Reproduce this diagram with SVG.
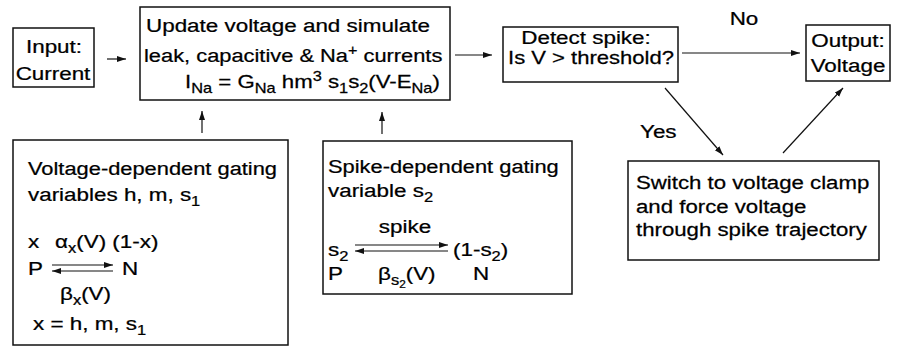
<svg xmlns="http://www.w3.org/2000/svg" width="899" height="350" viewBox="0 0 899 350">
<style>
.t{font-family:"Liberation Sans",Arial,Helvetica,sans-serif;font-size:19px;fill:#000;stroke:#000;stroke-width:0.25}
.s{font-size:14px}
.ss{font-size:10px}
.box{fill:#fff;stroke:#111;stroke-width:1.5}
.ln{fill:none;stroke:#111;stroke-width:1.2}
</style>
<defs>
<marker id="ah" markerUnits="userSpaceOnUse" markerWidth="10" markerHeight="8" refX="9" refY="3" orient="auto">
<path d="M0,0 L9,3 L0,6 z" fill="#111"/>
</marker>
</defs>
<rect width="899" height="350" fill="#fff"/>

<g id="input">
<rect class="box" x="13" y="28" width="81" height="59"/>
<text class="t" text-anchor="middle" transform="translate(54,53) scale(1.18,1)">Input:</text>
<text class="t" text-anchor="middle" transform="translate(53,80) scale(1.18,1)">Current</text>
</g>

<g id="update">
<rect class="box" x="140" y="7" width="310" height="93"/>
<text class="t" transform="translate(146,32) scale(1.18,1)">Update voltage and simulate</text>
<text class="t" transform="translate(144,62) scale(1.15,1)">leak, capacitive &amp; Na<tspan class="s" dy="-7">+</tspan><tspan dy="7"> currents</tspan></text>
<text class="t" transform="translate(185,88) scale(1.17,1)">I<tspan class="s" dy="5">Na</tspan><tspan dy="-5"> = G</tspan><tspan class="s" dy="5">Na</tspan><tspan dy="-5"> hm</tspan><tspan class="s" dy="-7">3</tspan><tspan dy="7"> s</tspan><tspan class="s" dy="5">1</tspan><tspan dy="-5">s</tspan><tspan class="s" dy="5">2</tspan><tspan dy="-5">(V-E</tspan><tspan class="s" dy="5">Na</tspan><tspan dy="-5">)</tspan></text>
</g>

<g id="detect">
<rect class="box" x="503" y="27" width="175" height="55"/>
<text class="t" text-anchor="middle" transform="translate(586,44) scale(1.18,1)">Detect spike:</text>
<text class="t" text-anchor="middle" transform="translate(591,64) scale(1.16,1)">Is V &gt; threshold?</text>
</g>

<g id="output">
<rect class="box" x="806" y="25" width="84" height="56"/>
<text class="t" text-anchor="middle" transform="translate(848,47) scale(1.18,1)">Output:</text>
<text class="t" text-anchor="middle" transform="translate(848,72) scale(1.18,1)">Voltage</text>
</g>

<g id="clamp">
<rect class="box" x="628" y="161" width="251" height="99"/>
<text class="t" transform="translate(636,189) scale(1.17,1)">Switch to voltage clamp</text>
<text class="t" transform="translate(636,213) scale(1.17,1)">and force voltage</text>
<text class="t" transform="translate(636,236) scale(1.17,1)">through spike trajectory</text>
</g>

<g id="vgating">
<rect class="box" x="13" y="140" width="275" height="205"/>
<text class="t" transform="translate(28,175) scale(1.15,1)">Voltage-dependent gating</text>
<text class="t" transform="translate(28,201) scale(1.18,1)">variables h, m, s<tspan class="s" dy="5">1</tspan></text>
<text class="t" transform="translate(28,248) scale(1.18,1)">x</text>
<text class="t" transform="translate(55,248) scale(1.18,1)">α<tspan class="s" dy="5">x</tspan><tspan dy="-5">(V) (1-x)</tspan></text>
<text class="t" transform="translate(28,275) scale(1.18,1)">P</text>
<text class="t" transform="translate(122,275) scale(1.18,1)">N</text>
<line class="ln" x1="52" y1="265" x2="113" y2="265" marker-end="url(#ah)"/>
<line class="ln" x1="113" y1="271" x2="52" y2="271" marker-end="url(#ah)"/>
<text class="t" transform="translate(60,300) scale(1.18,1)">β<tspan class="s" dy="5">x</tspan><tspan dy="-5">(V)</tspan></text>
<text class="t" transform="translate(33,330) scale(1.18,1)">x = h, m, s<tspan class="s" dy="5">1</tspan></text>
</g>

<g id="sgating">
<rect class="box" x="323" y="141" width="249" height="153"/>
<text class="t" transform="translate(328,173) scale(1.15,1)">Spike-dependent gating</text>
<text class="t" transform="translate(328,197) scale(1.18,1)">variable s<tspan class="s" dy="5">2</tspan></text>
<text class="t" text-anchor="middle" transform="translate(405,233) scale(1.18,1)">spike</text>
<text class="t" transform="translate(328,256) scale(1.18,1)">s<tspan class="s" dy="5">2</tspan></text>
<line class="ln" x1="355" y1="245" x2="448" y2="245" marker-end="url(#ah)"/>
<line class="ln" x1="448" y1="251" x2="355" y2="251" marker-end="url(#ah)"/>
<text class="t" transform="translate(453,256) scale(1.18,1)">(1-s<tspan class="s" dy="5">2</tspan><tspan dy="-5">)</tspan></text>
<text class="t" transform="translate(328,280) scale(1.18,1)">P</text>
<text class="t" transform="translate(378,280) scale(1.18,1)">β<tspan class="s" dy="5">s</tspan><tspan class="ss" dy="3">2</tspan><tspan dy="-8">(V)</tspan></text>
<text class="t" transform="translate(473,280) scale(1.18,1)">N</text>
</g>

<g id="labels">
<text class="t" text-anchor="middle" transform="translate(744,25) scale(1.18,1)">No</text>
<text class="t" transform="translate(640,138) scale(1.18,1)">Yes</text>
</g>

<g id="connectors">
<line class="ln" x1="107" y1="59" x2="126" y2="59" marker-end="url(#ah)"/>
<line class="ln" x1="455" y1="55" x2="492" y2="55" marker-end="url(#ah)"/>
<line class="ln" x1="682" y1="53" x2="800" y2="53" marker-end="url(#ah)"/>
<line class="ln" x1="665" y1="88" x2="723" y2="155" marker-end="url(#ah)"/>
<line class="ln" x1="783" y1="153" x2="843" y2="88" marker-end="url(#ah)"/>
<line class="ln" x1="202" y1="133" x2="202" y2="111" marker-end="url(#ah)"/>
<line class="ln" x1="382" y1="134" x2="382" y2="112" marker-end="url(#ah)"/>
</g>
</svg>
